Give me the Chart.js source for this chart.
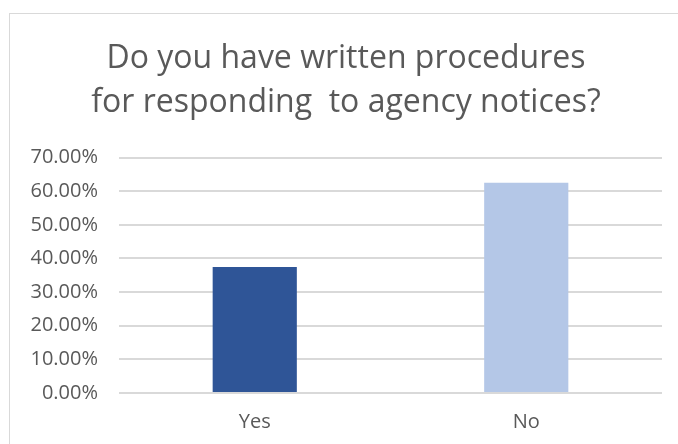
<!DOCTYPE html>
<html>
<head>
<meta charset="utf-8">
<script src="https://cdn.jsdelivr.net/npm/chart.js@4"></script>
<style>
  html, body { margin: 0; padding: 0; background: #fff; overflow: hidden; }
  #wrap {
    position: absolute; left: 9px; top: 13px;
    width: 680px; height: 440px;
    border: 1px solid #d9d9d9;
  }
</style>
</head>
<body>
<div id="wrap"><canvas id="chart" width="680" height="440"></canvas></div>
<script>
// data
const categories = ['Yes', 'No'];
const shares = [37.5, 62.5];
const barColors = ['#2f5597', '#b4c7e7'];
const titleLines = ['Do you have written procedures', 'for responding  to agency notices?'];
const yMax = 70;
const yStep = 10;

const textColor = '#595959';
const fontFamily = '"Open Sans", "Noto Sans", sans-serif';

const ctx = document.getElementById('chart').getContext('2d');

const chart = new Chart(ctx, {
    type: 'bar',
    data: {
        labels: categories,
        datasets: [{
            data: shares,
            backgroundColor: barColors,
            borderWidth: 0,
            barPercentage: 0.31,
            categoryPercentage: 1
        }]
    },
    options: {
        responsive: false,
        animation: false,
        layout: { padding: { left: 20, right: 28, top: 0, bottom: 0 } },
        plugins: {
            legend: { display: false },
            tooltip: { enabled: false },
            title: {
                display: true,
                text: titleLines,
                color: textColor,
                font: { family: fontFamily, size: 32, weight: 'normal', lineHeight: 1.4 },
                padding: { top: 22, bottom: 32 }
            }
        },
        scales: {
            x: {
                grid: { display: false, drawTicks: false },
                border: { display: false },
                ticks: {
                    color: textColor,
                    font: { family: fontFamily, size: 20 },
                    padding: 17
                },
                afterFit: (scale) => { scale.height = 61; }
            },
            y: {
                min: 0,
                max: yMax,
                grid: { color: '#d9d9d9', lineWidth: 2, drawTicks: false },
                border: { display: false },
                ticks: {
                    stepSize: yStep,
                    color: textColor,
                    font: { family: fontFamily, size: 20 },
                    padding: 21,
                    callback: (v) => v.toFixed(2) + '%'
                },
                afterFit: (scale) => { scale.width = 89; }
            }
        }
    }
});
</script>
</body>
</html>
